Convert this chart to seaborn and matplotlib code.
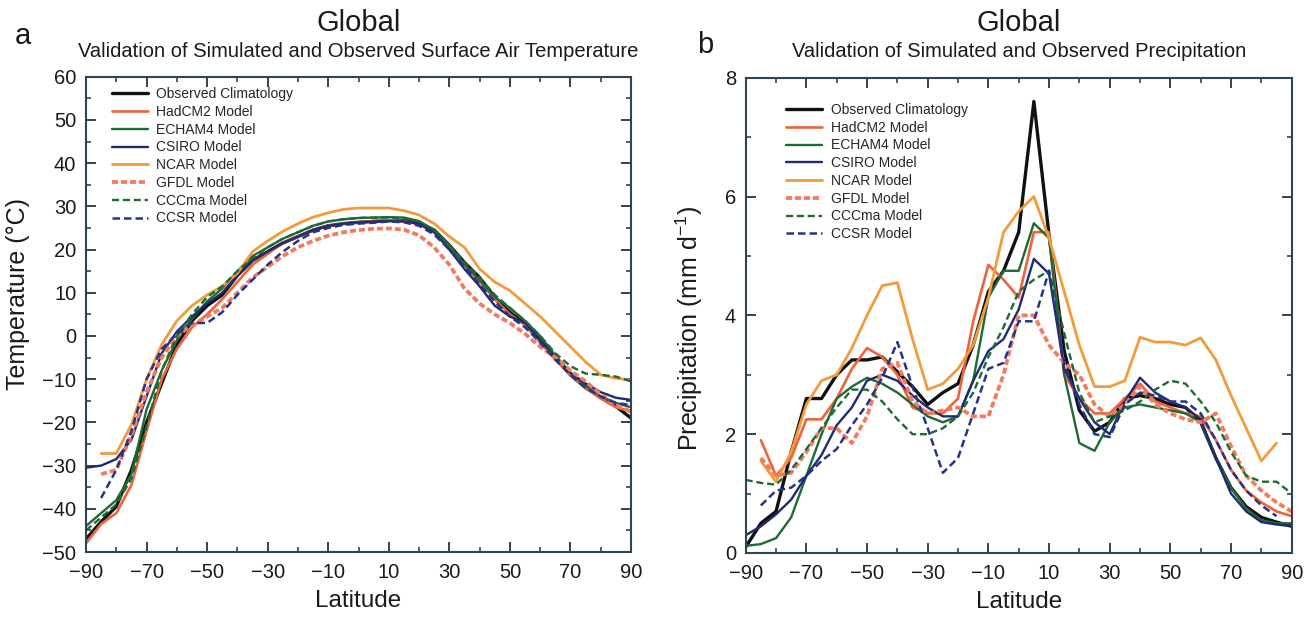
import numpy as np
import pandas as pd
import matplotlib
matplotlib.use("Agg")
import matplotlib.pyplot as plt
from matplotlib.ticker import MultipleLocator, FixedLocator
import seaborn as sns

# ---------------- data ----------------
LAT = list(range(-90, 91, 5))
nan = np.nan

MODELS = ["Observed Climatology", "HadCM2 Model", "ECHAM4 Model", "CSIRO Model",
          "NCAR Model", "GFDL Model", "CCCma Model", "CCSR Model"]

# Surface air temperature (deg C)
OBS_T = [-47, -43, -39.5, -31, -20, -11, -2, 3.5, 7, 9.5, 14, 17.5, 19.5, 21.5, 23, 24.5, 25.5, 26, 26.3,
         26.5, 26.7, 26.7, 26.1, 24.5, 21, 17, 13.5, 9, 5.5, 2.8, -1, -5, -9, -12, -14.2, -16.3, -19]
HAD_T = [-48, -43.5, -41, -34.5, -22, -10, -3, 2, 5, 8.5, 12.5, 16.5, 19, 21.5, 23, 24.5, 25.5, 26, 26.3,
         26.6, 26.8, 26.6, 25.8, 24, 20.5, 16.5, 12.5, 8.5, 5, 2.5, -1.5, -5.5, -9, -12, -14.5, -16.5, -17.5]
ECH_T = [-44, -41, -38, -32, -17, -8, -1, 4, 8, 11, 15, 18.5, 20.5, 22.5, 24, 25.5, 26.5, 27, 27.3,
         27.4, 27.5, 27.4, 26.6, 24.5, 21, 16.5, 13, 9, 6.5, 3.5, 0, -4.5, -8.5, -11.5, -14, -15.5, -16.5]
CSI_T = [-30.5, -30, -28.5, -24, -14, -4, 1, 4.5, 7.5, 10, 14, 17.5, 19.5, 21.5, 23, 24.5, 25.5, 26, 26.3,
         26.5, 26.6, 26.5, 26, 24, 20, 15.5, 11.5, 7, 4.5, 3, -1, -5, -8.5, -11, -13, -14.3, -14.8]
NCA_T = [nan, -27.2, -27.2, -20.5, -10, -2, 3.5, 7, 9.5, 11.5, 14.5, 19.5, 22, 24.2, 26, 27.5, 28.5, 29.3, 29.6,
         29.6, 29.6, 29, 28, 26, 23, 20.5, 15.5, 12.5, 10.5, 7.5, 4.5, 1, -2.5, -6, -9, -9.8, -10.2]
GFD_T = [nan, -32, -31, -23, -13, -5, 0, 2.5, 4.5, 6.5, 10, 13.5, 16, 18.5, 20.5, 22, 23.2, 24, 24.5,
         24.8, 24.9, 24.6, 23.3, 20.5, 16.5, 11, 7.5, 5, 3, 0.5, -2.5, -5, -8, -10.5, -13.5, -16, -17.5]
CCC_T = [-45, -42, -39, -33, -21, -8, 0, 5, 9, 11.5, 15, 18, 20.5, 22.5, 24, 25.5, 26.5, 27, 27.3,
         27.4, 27.4, 27.2, 26.5, 24.5, 21, 17, 13.5, 9.5, 6.5, 3.5, 0, -4, -7, -8.7, -9, -9.4, -10.5]
CCS_T = [nan, -37.5, -31, -22, -10, -3, 0.5, 3, 3, 5.5, 9.5, 13, 16.5, 19.5, 22, 24, 25, 25.7, 26,
         26.2, 26.5, 26.3, 25.5, 23.5, 20, 16, 12, 8, 4.5, 2, -1.5, -5.5, -9, -12, -14, -15.5, -16]

# Precipitation (mm/day)
OBS_P = [0.1, 0.5, 0.7, 1.7, 2.6, 2.6, 3.0, 3.25, 3.25, 3.3, 3.05, 2.8, 2.5, 2.7, 2.85, 3.5, 4.4, 4.75, 5.4,
         7.6, 5.35, 3.4, 2.4, 2.05, 2.2, 2.6, 2.65, 2.6, 2.5, 2.45, 2.2, 1.6, 1.1, 0.78, 0.6, 0.52, 0.45]
HAD_P = [nan, 1.9, 1.3, 1.6, 2.25, 2.25, 2.6, 3.1, 3.45, 3.3, 3.0, 2.45, 2.35, 2.35, 2.6, 3.9, 4.85, 4.6, 4.3,
         5.4, 5.4, 3.0, 2.6, 2.35, 2.35, 2.6, 2.85, 2.55, 2.45, 2.35, 2.3, 1.9, 1.4, 1.05, 0.85, 0.7, 0.62]
ECH_P = [0.12, 0.15, 0.25, 0.6, 1.3, 2.0, 2.6, 2.8, 2.95, 2.85, 2.7, 2.5, 2.3, 2.2, 2.3, 2.9, 4.3, 4.75, 4.75,
         5.55, 5.3, 3.0, 1.85, 1.72, 2.2, 2.45, 2.5, 2.45, 2.4, 2.35, 2.2, 1.6, 1.1, 0.75, 0.55, 0.5, 0.5]
CSI_P = [0.3, 0.45, 0.65, 0.9, 1.3, 1.65, 2.15, 2.45, 2.9, 3.0, 2.9, 2.65, 2.45, 2.3, 2.3, 2.9, 3.4, 3.6, 4.1,
         4.95, 4.7, 3.1, 2.6, 2.2, 2.0, 2.55, 2.95, 2.7, 2.55, 2.45, 2.25, 1.6, 1.0, 0.7, 0.52, 0.48, 0.45]
NCA_P = [nan, 1.55, 1.2, 1.7, 2.5, 2.9, 3.0, 3.45, 4.0, 4.5, 4.55, 3.6, 2.75, 2.85, 3.1, 3.5, 4.3, 5.4, 5.75,
         6.0, 5.3, 4.4, 3.5, 2.8, 2.8, 2.9, 3.63, 3.55, 3.55, 3.5, 3.62, 3.25, 2.65, 2.1, 1.55, 1.85, nan]
GFD_P = [nan, 1.6, 1.3, 1.35, 1.7, 2.1, 2.1, 1.85, 2.3, 3.1, 3.2, 2.55, 2.35, 2.4, 2.45, 2.3, 2.3, 3.0, 4.0,
         4.0, 3.5, 3.2, 3.0, 2.5, 2.3, 2.5, 2.8, 2.5, 2.35, 2.25, 2.2, 2.35, 1.8, 1.3, 1.05, 0.85, 0.7]
CCC_P = [1.23, 1.18, 1.15, 1.4, 1.75, 2.1, 2.45, 2.75, 2.75, 2.55, 2.25, 2.0, 2.0, 2.1, 2.3, 2.7, 3.3, 3.8, 4.4,
         4.6, 4.75, 3.7, 2.7, 2.2, 2.3, 2.4, 2.55, 2.75, 2.9, 2.85, 2.55, 2.2, 1.7, 1.3, 1.2, 1.2, 1.0]
CCS_P = [nan, 0.8, 1.05, 1.1, 1.3, 1.55, 1.75, 2.15, 2.5, 2.95, 3.55, 2.8, 2.1, 1.35, 1.6, 2.35, 3.1, 3.2, 3.9,
         3.9, 4.75, 3.2, 2.5, 2.0, 1.95, 2.5, 2.7, 2.65, 2.55, 2.55, 2.35, 1.9, 1.4, 1.05, 0.8, 0.62, nan]

TEMP = [OBS_T, HAD_T, ECH_T, CSI_T, NCA_T, GFD_T, CCC_T, CCS_T]
PREC = [OBS_P, HAD_P, ECH_P, CSI_P, NCA_P, GFD_P, CCC_P, CCS_P]

X_TICKS = [-90, -70, -50, -30, -10, 10, 30, 50, 70, 90]

# ---------------- style ----------------
COLORS = ["#111111", "#f0623a", "#1c6b34", "#1f2a72", "#f59a3a", "#f47a5c", "#1c6b34", "#25348a"]
WIDTHS = [2.4, 1.9, 1.7, 1.7, 2.0, 2.7, 1.7, 1.8]
DASHES = [None, None, None, None, None, (1.6, 0.8), (3.0, 1.6), (3.0, 1.6)]

sns.set_theme(style="ticks")
plt.rcParams["font.family"] = ["Liberation Sans", "DejaVu Sans"]
plt.rcParams["mathtext.fontset"] = "custom"
plt.rcParams["mathtext.rm"] = "Liberation Sans"
plt.rcParams["mathtext.it"] = "Liberation Sans:italic"
plt.rcParams["axes.unicode_minus"] = True

SPINE = "#2f4454"
W, H = 1315, 617
fig = plt.figure(figsize=(W / 100, H / 100), dpi=100)
fig.patch.set_facecolor("white")

axA = fig.add_axes([86 / W, 1 - 552 / H, 545 / W, 475.3 / H])
axB = fig.add_axes([745.7 / W, 1 - 553 / H, 546 / W, 475.3 / H])


def draw(ax, series):
    for name, vals, c, lw, ds in zip(MODELS, series, COLORS, WIDTHS, DASHES):
        df = pd.DataFrame({"Latitude": LAT, "v": vals})
        kw = {}
        if ds is not None:
            kw["dashes"] = ds
        sns.lineplot(data=df, x="Latitude", y="v", ax=ax, color=c, linewidth=lw,
                     label=name, estimator=None, sort=True, **kw)


draw(axA, TEMP)
draw(axB, PREC)

for ax in (axA, axB):
    ax.set_xlim(-90, 90)
    ax.xaxis.set_major_locator(FixedLocator(X_TICKS))
    ax.xaxis.set_minor_locator(MultipleLocator(10))
    ax.tick_params(which="both", direction="in", top=True, right=True, colors=SPINE,
                   labelcolor="#1a1a1a")
    ax.tick_params(which="major", length=7, width=1.4)
    ax.tick_params(which="minor", length=3.5, width=1.2)
    ax.tick_params(axis="x", which="major", labelsize=14.5, pad=8)
    ax.tick_params(axis="y", which="major", labelsize=14.5, pad=7)
    for s in ax.spines.values():
        s.set_color(SPINE)
        s.set_linewidth(1.5)
    ax.set_xlabel("Latitude", fontsize=17.5, color="#1a1a1a")
    ax.xaxis.set_label_coords(0.5, -0.080)
    ax.grid(False)
    ax.set_facecolor("white")

axA.set_ylim(-50, 60)
axA.yaxis.set_major_locator(MultipleLocator(10))
axA.yaxis.set_minor_locator(MultipleLocator(5))
axA.set_ylabel("Temperature (°C)", fontsize=18, color="#1a1a1a")
axA.yaxis.set_label_coords(-0.103, 0.543)

axB.set_ylim(0, 8)
axB.yaxis.set_major_locator(MultipleLocator(2))
axB.yaxis.set_minor_locator(MultipleLocator(1))
axB.set_ylabel("Precipitation (mm d$^{-1}$)", fontsize=18, color="#1a1a1a")
axB.yaxis.set_label_coords(-0.0745, 0.473)

leg_kw = dict(loc="upper left", frameon=False, fontsize=10, handlelength=2.6,
              handletextpad=0.6, labelspacing=0.27, borderpad=0, borderaxespad=0)
axA.legend(bbox_to_anchor=(0.047, 0.978), **leg_kw)
axB.legend(bbox_to_anchor=(0.074, 0.947), **leg_kw)

# Titles
for ax, sub in ((axA, "Validation of Simulated and Observed Surface Air Temperature"),
                (axB, "Validation of Simulated and Observed Precipitation")):
    pos = ax.get_position()
    xc = (pos.x0 + pos.x1) / 2
    fig.text(xc, 1 - 30.7 / H, "Global", ha="center", va="baseline", fontsize=21, color="#1a1a1a")
    fig.text(xc, 1 - 57.3 / H, sub, ha="center", va="baseline", fontsize=14.5, color="#1a1a1a")

fig.text(15 / W, 1 - 43.5 / H, "a", ha="left", va="baseline", fontsize=21, color="#1a1a1a")
fig.text(697 / W, 1 - 52.7 / H, "b", ha="left", va="baseline", fontsize=21, color="#1a1a1a")

fig.savefig("out.png", dpi=100, facecolor="white")
